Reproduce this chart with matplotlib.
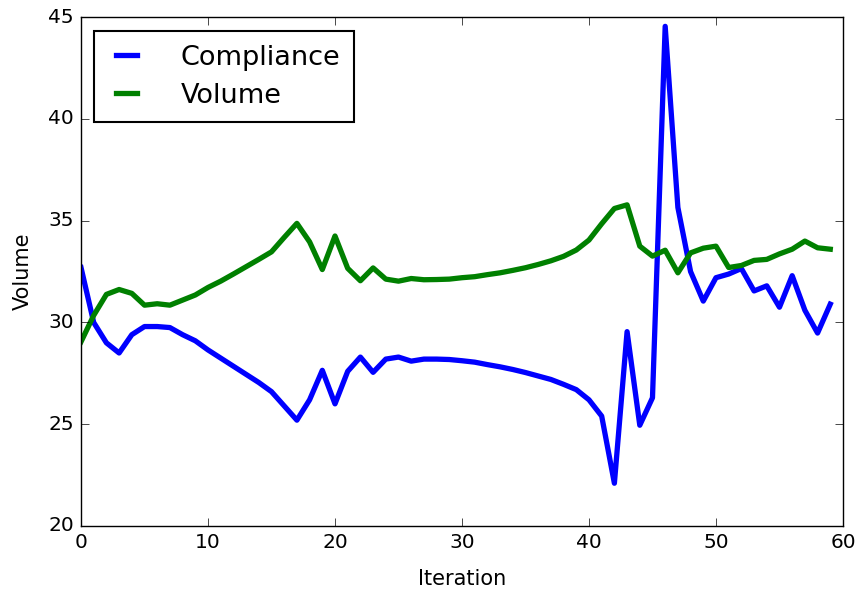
import matplotlib
matplotlib.use("Agg")
import matplotlib.pyplot as plt
import numpy as np

compliance = [32.7, 30.0, 29.0, 28.5, 29.4, 29.8, 29.8, 29.75, 29.4, 29.1,
              28.65, 28.25, 27.85, 27.45, 27.05, 26.6, 25.9, 25.2, 26.2, 27.65,
              26.0, 27.6, 28.3, 27.55, 28.2, 28.3, 28.1, 28.2, 28.2, 28.18,
              28.12, 28.05, 27.93, 27.82, 27.69, 27.54, 27.37, 27.2, 26.96, 26.7,
              26.2, 25.4, 22.1, 29.55, 24.95, 26.3, 44.55, 35.65, 32.5, 31.05,
              32.2, 32.38, 32.65, 31.55, 31.8, 30.75, 32.3, 30.6, 29.48, 30.9]

volume = [29.05, 30.35, 31.38, 31.62, 31.43, 30.85, 30.92, 30.85, 31.1, 31.35,
          31.72, 32.03, 32.38, 32.74, 33.1, 33.47, 34.18, 34.87, 33.96, 32.6,
          34.25, 32.66, 32.05, 32.68, 32.13, 32.03, 32.16, 32.1, 32.11, 32.13,
          32.2, 32.25, 32.35, 32.44, 32.56, 32.69, 32.85, 33.03, 33.25, 33.56,
          34.05, 34.85, 35.6, 35.78, 33.75, 33.26, 33.55, 32.44, 33.42, 33.65,
          33.75, 32.7, 32.8, 33.05, 33.1, 33.37, 33.6, 34.0, 33.67, 33.6]

iterations = np.arange(len(compliance))

plt.style.use('classic')
plt.rcParams['font.family'] = ['DejaVu Sans']

fig = plt.figure(figsize=(8.6, 5.93), dpi=100)
ax = fig.add_axes([0.0942, 0.113, 0.886, 0.858])

ax.plot(iterations, compliance, color='b', linewidth=3.8, label='Compliance')
ax.plot(iterations, volume, color='g', linewidth=3.8, label='Volume')

ax.set_xlim(0, 60)
ax.set_ylim(20, 45)
ax.set_xticks(np.arange(0, 61, 10))
ax.set_yticks(np.arange(20, 46, 5))
ax.tick_params(labelsize=14.5, length=6, pad=5)
ax.set_xlabel('Iteration', fontsize=15, labelpad=12)
ax.set_ylabel('Volume', fontsize=15, labelpad=11)

leg = ax.legend(loc='upper left', fontsize=19.5, handlelength=1.4,
                handletextpad=1.3, borderpad=0.5, labelspacing=0.45,
                borderaxespad=0, bbox_to_anchor=(0.017, 0.9725))
leg.get_frame().set_linewidth(1.5)

fig.savefig('out.png', dpi=100)
